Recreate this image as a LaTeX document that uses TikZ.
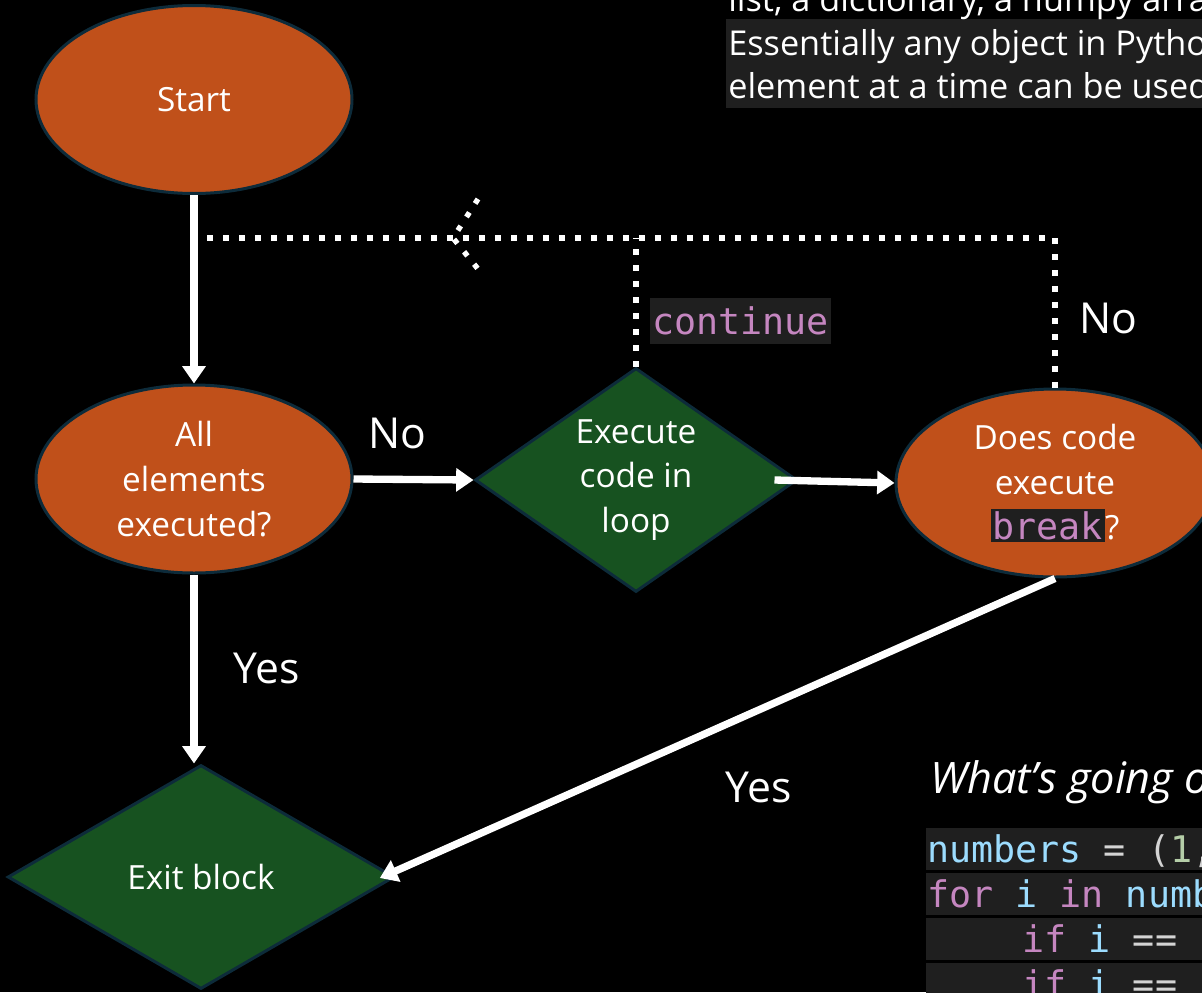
\documentclass[tikz,border=0pt]{standalone}
\usepackage{fontspec}
\setmainfont{Open Sans}
\setmonofont{DejaVu Sans Mono}
\usetikzlibrary{shapes.geometric,arrows.meta,calc}

\definecolor{nodeorange}{HTML}{C0501A}
\definecolor{nodegreen}{HTML}{175220}
\definecolor{edgenavy}{HTML}{0D2B3A}
\definecolor{codebg}{HTML}{1F1F1F}
\definecolor{kwpink}{HTML}{C586C0}
\definecolor{varblue}{HTML}{9CDCFE}
\definecolor{numgreen}{HTML}{B5CEA8}
\definecolor{opgrey}{HTML}{D4D4D4}

\newcommand\flowfont{\fontsize{25}{33.5}\selectfont}
\newcommand\labelfont{\fontsize{32}{36}\selectfont}
\newcommand\notefont{\fontsize{25.7}{32}\selectfont}
\newcommand\codefont{\fontsize{27.5}{33.75}\selectfont\ttfamily}
\newcommand\kw[1]{\textcolor{kwpink}{#1}}
\newcommand\vr[1]{\textcolor{varblue}{#1}}
\newcommand\nm[1]{\textcolor{numgreen}{#1}}
\newcommand\op[1]{\textcolor{opgrey}{#1}}

\begin{document}
\begin{tikzpicture}[x=0.75pt,y=-0.75pt,
  oval/.style={ellipse, draw=edgenavy, line width=2.25pt, fill=nodeorange,
    text=white, inner sep=0pt, align=center, font=\flowfont},
  rhomb/.style={diamond, draw=edgenavy, line width=2.25pt, fill=nodegreen,
    text=white, inner sep=0pt, align=center, font=\flowfont},
  flow/.style={draw=white, line width=5.5pt,
    -{Triangle[length=13pt,width=17pt]}},
  dots/.style={draw=white, line width=4pt, dash pattern=on 4pt off 8pt},
  lbl/.style={text=white, font=\labelfont, inner sep=0pt},
  note/.style={anchor=base west, text=white, font=\notefont, inner sep=0pt},
  codetext/.style={anchor=base west, font=\codefont, inner sep=0pt},
  codeline/.style={fill=codebg, anchor=north west, minimum width=300pt,
    minimum height=31.5pt, inner sep=0pt},
]
\useasboundingbox (0,0) rectangle (1202,992);
\clip (0,0) rectangle (1202,992);
\fill[black] (0,0) rectangle (1202,992);

% explanatory text, top right
\fill[codebg] (726,19) rectangle (1210,108);
\node[note] (t1) at (728,12) {list, a dictionary, a numpy array};
\node[note] (t2) at (728,55) {Essentially any object in Python};
\node[note] (t3) at (728,98) {element at a time can be used};

% flowchart nodes
\node[oval, minimum width=237pt, minimum height=141pt] (start) at (194,99.5) {Start};
\node[oval, minimum width=237pt, minimum height=141pt] (all) at (194,479)
  {All\\elements\\executed?};
\node[rhomb, aspect=1.44, minimum width=241.5pt, minimum height=168pt] (exec)
  at (636,480) {Execute\\code in\\loop};
\node[oval, minimum width=238.5pt, minimum height=141pt] (brk) at (1055,483)
  {Does code\\execute\\{\setlength\fboxsep{1.5pt}\colorbox{codebg}{\codefont\kw{break}}}?};
\node[rhomb, aspect=1.72, minimum width=290pt, minimum height=168pt] (exit)
  at (201,877) {Exit block};

% solid connectors
\draw[flow] (start.south) -- (all.north);
\draw[flow] (all.east) -- (exec.west);
\draw[flow] ($(exec.east)+(-24,0)$) -- (brk.west);
\draw[flow] (all.south) -- (all.south |- exit.north);
\draw[flow] (brk.south) -- ($(exit.east)+(-16,1)$);

% dotted return paths
\coordinate (jl) at (202,238);
\draw[dots] (brk.north) |- (jl);
\draw[dots] (exec.north) -- (exec.north |- jl);
\coordinate (chevtip) at (453,238);
\coordinate (chevup) at (478,199);
\coordinate (chevdn) at (478,269);
\draw[dots] (chevup) -- (chevtip) -- (chevdn);

% labels
\node[fill=codebg, text=kwpink, font=\codefont, inner xsep=2pt, inner ysep=0pt,
  minimum height=34.5pt] (cont) at (740.5,320.5) {continue};
\node[lbl] (no1) at (397,433) {No};
\node[lbl] (no2) at (1108,318) {No};
\node[lbl] (yes1) at (267,668) {Yes};
\node[lbl] (yes2) at (759,787) {Yes};

% example code, bottom right
\node[anchor=base west, text=white, font=\fontsize{32.5}{36}\selectfont\itshape,
  inner sep=0pt] (what) at (930,793) {What’s going on?};
\node[codeline] (c1) at (926,828) {};
\node[codeline] (c2) at (926,873) {};
\node[codeline] (c3) at (926,918) {};
\node[codeline] (c4) at (926,963) {};
\node[codetext] at (927,862) {\vr{numbers} \op{= (}\nm{1}\op{,}};
\node[codetext] at (927,907) {\kw{for} \vr{i} \kw{in} \vr{numbers}};
\node[codetext] at (934,952) {\phantom{xxxx}\kw{if} \vr{i} \op{==}};
\node[codetext] at (934,997) {\phantom{xxxx}\kw{if} \vr{i} \op{==}};
\end{tikzpicture}
\end{document}
